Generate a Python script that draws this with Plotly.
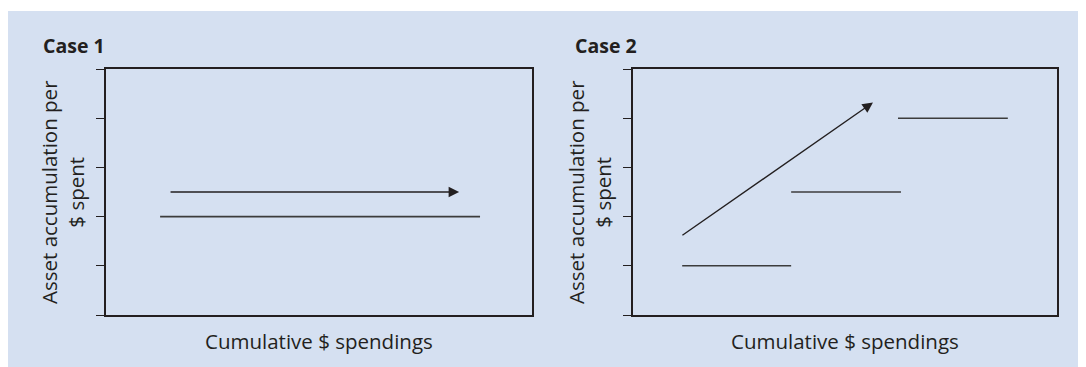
import plotly.graph_objects as go

# page has an 8px body margin, so the figure is drawn smaller and shifted
OFF = 8
W, H = 1086 - OFF, 367 - OFF
panel_color = "#d5e0f1"
ink = "#231f20"

# Case 1: one flat level, arrow pointing right
case1_seg_x0 = [12.7]
case1_seg_x1 = [87.8]
case1_levels = [2]
case1_arrow_x = [14.8, 82.9]
case1_arrow_y = [2.5, 2.5]

# Case 2: stepped levels, arrow climbing
case2_seg_x0 = [11.6, 37.3, 62.5]
case2_seg_x1 = [37.3, 63.2, 88.4]
case2_levels = [1, 2.5, 4]
case2_arrow_x = [11.3, 56.6]
case2_arrow_y = [1.6, 4.32]

y_ticks = [0, 1, 2, 3, 4, 5]
titles = ["Case 1", "Case 2"]
x_title = "Cumulative $ spendings"
y_title = "Asset accumulation per<br>$ spent"


def px_x(p):
    return (p - OFF) / W


def px_y(p):
    return 1 - (p - OFF) / H


def segs(x0, x1, lv):
    xs, ys = [], []
    for a, b, v in zip(x0, x1, lv):
        xs += [a, b, None]
        ys += [v, v, None]
    return xs, ys


fig = go.Figure()

xs, ys = segs(case1_seg_x0, case1_seg_x1, case1_levels)
fig.add_trace(go.Scatter(x=xs, y=ys, mode="lines", xaxis="x", yaxis="y",
                         line=dict(color="#3c3c3c", width=1.6), showlegend=False))
xs, ys = segs(case2_seg_x0, case2_seg_x1, case2_levels)
fig.add_trace(go.Scatter(x=xs, y=ys, mode="lines", xaxis="x2", yaxis="y2",
                         line=dict(color="#3c3c3c", width=1.6), showlegend=False))

# arrows
for ax_x, ax_y, (px, py) in [("x", "y", (case1_arrow_x, case1_arrow_y)),
                              ("x2", "y2", (case2_arrow_x, case2_arrow_y))]:
    fig.add_annotation(x=px[1], y=py[1], ax=px[0], ay=py[0],
                       xref=ax_x, yref=ax_y, axref=ax_x, ayref=ax_y,
                       showarrow=True, arrowhead=2, arrowsize=1.5, arrowwidth=1.4,
                       arrowcolor=ink, text="", standoff=0)

# domains from the picture
dom1 = [px_x(106), px_x(532)]
dom2 = [px_x(633), px_x(1057)]
ydom = [px_y(315), px_y(69)]

axis_x = dict(range=[0, 100], showline=True, mirror=True, linecolor=ink, linewidth=1.5,
              showgrid=False, zeroline=False, showticklabels=False, ticks="")
axis_y = dict(range=[0, 5], showline=True, mirror=True, linecolor=ink, linewidth=1.5,
              showgrid=False, zeroline=False, showticklabels=False,
              ticks="outside", ticklen=8, tickwidth=1.2, tickcolor=ink, tickvals=y_ticks)

fig.update_layout(
    width=W, height=H,
    margin=dict(l=0, r=0, t=0, b=0),
    paper_bgcolor="white", plot_bgcolor="rgba(0,0,0,0)",
    font=dict(family="Open Sans", color=ink),
    xaxis=dict(axis_x, domain=dom1, anchor="y"),
    yaxis=dict(axis_y, domain=ydom, anchor="x"),
    xaxis2=dict(axis_x, domain=dom2, anchor="y2"),
    yaxis2=dict(axis_y, domain=ydom, anchor="x2"),
    shapes=[dict(type="rect", xref="paper", yref="paper", x0=0, x1=1, y0=0, y1=px_y(11),
                 fillcolor=panel_color, line=dict(width=0), layer="below")],
)

# titles and axis labels
for i, dom in enumerate([dom1, dom2]):
    title_left = [41, 573][i]
    fig.add_annotation(x=px_x(title_left), y=px_y(46), xref="paper", yref="paper",
                       text="<b>" + titles[i] + "</b>", showarrow=False,
                       xanchor="left", yanchor="middle", font=dict(size=19.5))
    fig.add_annotation(x=(dom[0] + dom[1]) / 2, y=px_y(341), xref="paper", yref="paper",
                       text=x_title, showarrow=False, xanchor="center", yanchor="middle",
                       font=dict(size=20.5))
    fig.add_annotation(x=dom[0] - 44 / W, y=(ydom[0] + ydom[1]) / 2, xref="paper", yref="paper",
                       text=y_title, showarrow=False, textangle=-90,
                       xanchor="center", yanchor="middle", font=dict(size=20.5))

fig.write_html("out.html")
